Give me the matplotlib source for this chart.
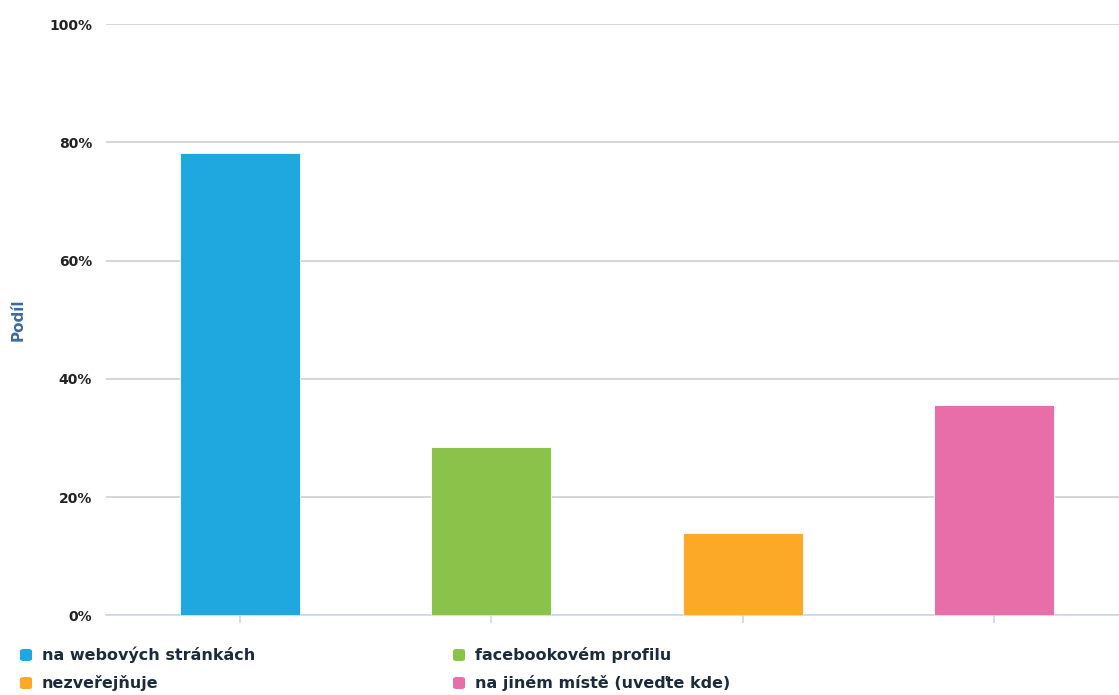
import matplotlib.pyplot as plt
from matplotlib.patches import FancyBboxPatch
from matplotlib.ticker import FuncFormatter

# --- Data ---
categories = ["na webových stránkách", "facebookovém profilu",
              "nezveřejňuje", "na jiném místě (uveďte kde)"]
shares = [78.3, 28.4, 14.0, 35.5]
colors = ["#1fa8e0", "#8bc34a", "#fba927", "#e76ea9"]
yticks = [0, 20, 40, 60, 80, 100]

W, H = 1119, 695
fig = plt.figure(figsize=(W / 100, H / 100), dpi=100)
ax = fig.add_axes([106 / W, (H - 615.3) / H, 1013 / W, 591 / H])

x = list(range(len(categories)))
ax.bar(x, shares, width=0.478, color=colors, edgecolor="white",
       linewidth=0.6, zorder=3)

ax.set_xlim(-0.533, 3.497)
ax.set_ylim(0, 100)
ax.set_yticks(yticks)
ax.yaxis.set_major_formatter(FuncFormatter(lambda v, _: f"{v:.0f}%"))
ax.set_xticks(x)
ax.set_xticklabels([])

ax.grid(axis="y", color="#d0d0d0", linewidth=1.2, zorder=0)
for side in ["top", "right", "left"]:
    ax.spines[side].set_visible(False)
ax.spines["bottom"].set_color("#ccd6eb")
ax.spines["bottom"].set_linewidth(1.2)
ax.tick_params(axis="y", length=0, pad=10, labelsize=10, labelcolor="#222222")
ax.tick_params(axis="x", length=6, width=1.2, color="#ccd6eb")
for lbl in ax.get_yticklabels():
    lbl.set_fontweight("bold")

ax.set_ylabel("Podíl", fontsize=11, fontweight="bold", color="#3d6a9e",
              labelpad=0)
ax.yaxis.set_label_coords(-80 / 1013, 0.5)

# legend: two columns, filled column by column
legend_cols = [20, 453]
legend_rows = [655, 683]
for i, (name, c) in enumerate(zip(categories, colors)):
    col = i % 2
    row = i // 2
    lx = legend_cols[col]
    ly = legend_rows[row]
    box = FancyBboxPatch(((lx) / W, (H - ly - 6) / H), 12 / W, 12 / H,
                         boxstyle="round,pad=0,rounding_size=0.003",
                         transform=fig.transFigure, facecolor=c,
                         edgecolor="none")
    fig.patches.append(box)
    fig.text((lx + 22) / W, (H - ly) / H, name, fontsize=11.5,
             fontweight="bold", color="#1c2b3c", va="center", ha="left")

fig.savefig("out.png", dpi=100)
